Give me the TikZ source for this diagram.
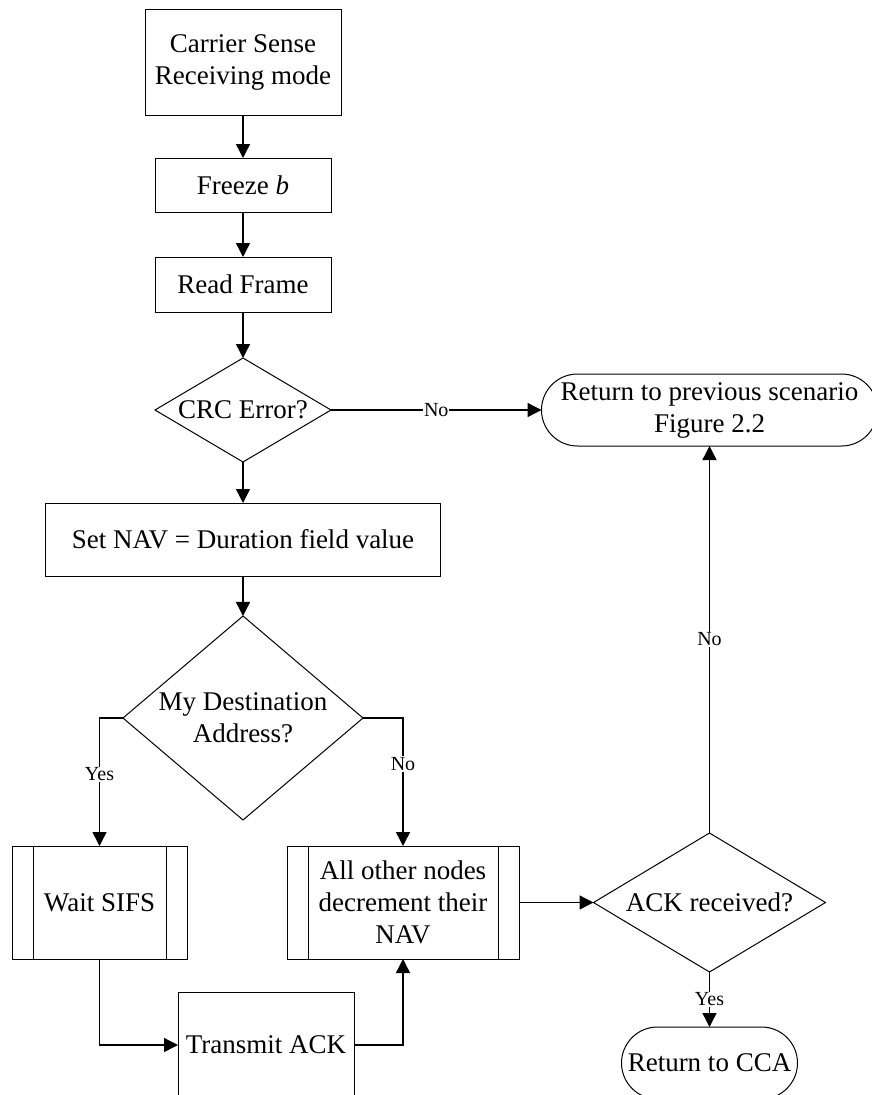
\documentclass[tikz,border=0pt]{standalone}
\usepackage{fontspec}
\setmainfont{Liberation Serif}
\usetikzlibrary{arrows.meta,shapes.geometric,shapes.misc}
\begin{document}
\begin{tikzpicture}[x=1pt,y=-1pt,
  base/.style={draw,line width=1pt,inner sep=0pt,outer sep=0pt,align=center,
    font=\fontsize{27}{32}\selectfont},
  box/.style={base,rectangle},
  dia/.style={base,diamond},
  term/.style={base,rounded rectangle},
  proc/.style={base,rectangle,path picture={
      \draw[line width=1pt] ([xshift=21pt]path picture bounding box.north west)
        -- ([xshift=21pt]path picture bounding box.south west);
      \draw[line width=1pt] ([xshift=-21pt]path picture bounding box.north east)
        -- ([xshift=-21pt]path picture bounding box.south east);}},
  lbl/.style={align=center,inner sep=0pt,font=\fontsize{27}{32}\selectfont},
  arr/.style={-{Triangle[length=14pt,width=14pt]},line width=1.4pt},
  elab/.style={fill=white,inner sep=1pt,font=\fontsize{20}{22}\selectfont}]
\clip (0,0) rectangle (872,1095);

% main column
\node[box,minimum width=196pt,minimum height=106pt] (cs) at (243,62) {Carrier Sense\\Receiving mode};
\node[box,minimum width=176pt,minimum height=54pt] (fz) at (243,185) {Freeze \textit{b}};
\node[box,minimum width=176pt,minimum height=55pt] (rf) at (243,284.5) {Read Frame};
\node[dia,minimum width=176pt,minimum height=104pt,label={[lbl]center:CRC Error?}] (crc) at (243,410) {};
\node[box,minimum width=395pt,minimum height=73pt] (nav) at (243,539.5) {Set NAV = Duration field value};
\node[dia,minimum width=240pt,minimum height=204pt,label={[lbl]center:My Destination\\Address?}] (dst) at (243,718) {};

% branches
\node[proc,minimum width=175pt,minimum height=113pt] (sifs) at (99.5,902.5) {Wait SIFS};
\node[proc,minimum width=232pt,minimum height=113pt] (oth) at (403,902.5) {All other nodes\\decrement their\\NAV};
\node[box,minimum width=176pt,minimum height=106pt] (tack) at (266,1045) {Transmit ACK};
\node[dia,minimum width=232pt,minimum height=139pt,label={[lbl]center:ACK received?}] (ack) at (709.5,902.5) {};
\node[term,minimum width=336pt,minimum height=72pt] (rp) at (709.5,410) {Return to previous scenario\\Figure 2.2};
\node[term,minimum width=176pt,minimum height=72pt] (cca) at (709.5,1063) {Return to CCA};

% connectors
\draw[arr] (cs) -- (fz);
\draw[arr] (fz) -- (rf);
\draw[arr] (rf) -- (crc);
\draw[arr] (crc) -- (nav);
\draw[arr] (nav) -- (dst);
\draw[arr] (crc.east) -- node[elab]{No} (rp.west);
\draw[arr] (dst.west) -| node[elab,pos=0.72]{Yes} (sifs.north);
\draw[arr] (dst.east) -| node[elab,pos=0.68]{No} (oth.north);
\draw[arr] (sifs.south) |- (tack.west);
\draw[arr] (tack.east) -| (oth.south);
\draw[arr] (oth.east) -- (ack.west);
\draw[arr] (ack.north) -- node[elab]{No} (rp.south);
\draw[arr] (ack.south) -- node[elab]{Yes} (cca.north);
\end{tikzpicture}
\end{document}
